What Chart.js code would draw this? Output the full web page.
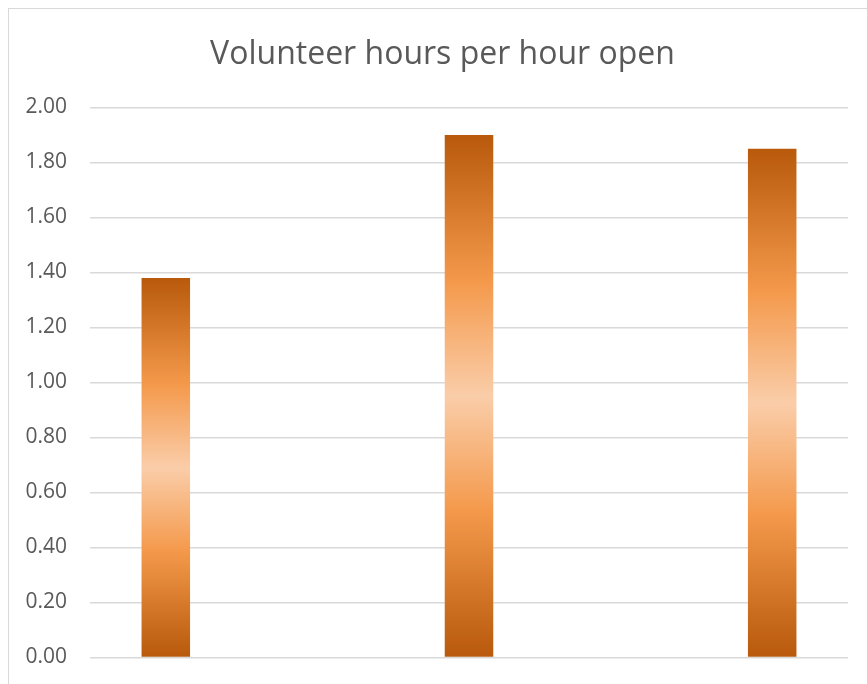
<!DOCTYPE html>
<html>
<head>
<meta charset="utf-8">
<script src="https://cdn.jsdelivr.net/npm/chart.js@4"></script>
<style>
  html, body { margin: 0; padding: 0; background: #fff; overflow: hidden; width: 867px; height: 684px; }
  #box { position: absolute; left: 8px; top: 8px; width: 880px; height: 700px; border: 1px solid #d9d9d9; box-sizing: border-box; }
  #c { position: absolute; left: 0; top: 0; display: block; }
</style>
</head>
<body>
<div id="box"><canvas id="c" width="867" height="684"></canvas></div>
<script>
const titleText = 'Volunteer hours per hour open';
const categories = ['', '', '', '', ''];
const values = [1.38, null, 1.90, null, 1.85];
const yTicks = [0, 0.2, 0.4, 0.6, 0.8, 1.0, 1.2, 1.4, 1.6, 1.8, 2.0];

function barGradient(context) {
  const chart = context.chart;
  const area = chart.chartArea;
  if (!area) return '#F4994B';
  const v = context.raw;
  if (v == null) return '#F4994B';
  const y = chart.scales.y;
  const top = y.getPixelForValue(v);
  const bottom = y.getPixelForValue(0);
  const g = chart.ctx.createLinearGradient(0, top, 0, bottom);
  g.addColorStop(0, '#B8590B');
  g.addColorStop(0.28, '#F4994B');
  g.addColorStop(0.5, '#FACDA9');
  g.addColorStop(0.72, '#F4994B');
  g.addColorStop(1, '#B8590B');
  return g;
}

new Chart(document.getElementById('c'), {
  type: 'bar',
  data: {
    labels: categories,
    datasets: [{
      data: values,
      backgroundColor: barGradient,
      borderWidth: 0,
      categoryPercentage: 1,
      barPercentage: 0.32
    }]
  },
  options: {
    responsive: false,
    animation: false,
    layout: { autoPadding: false, padding: { left: 0, right: 0, top: 0, bottom: 27 } },
    plugins: {
      legend: { display: false },
      tooltip: { enabled: false },
      title: {
        display: true,
        text: titleText,
        color: '#595959',
        font: { family: 'Open Sans', size: 32, weight: 'normal', lineHeight: 1.2 },
        padding: { top: 27, bottom: 33 }
      }
    },
    scales: {
      x: { display: false },
      y: {
        min: 0,
        max: 2,
        afterBuildTicks: (s) => { s.ticks = yTicks.map(v => ({ value: v })); },
        afterFit: (s) => { s.width = 81; },
        ticks: {
          callback: (v) => Number(v).toFixed(2),
          color: '#595959',
          font: { family: 'Open Sans', size: 21 },
          padding: 23
        },
        grid: { color: '#D9D9D9', lineWidth: 1.5, drawTicks: false },
        border: { display: false }
      },
      yRight: {
        type: 'linear',
        position: 'right',
        display: true,
        min: 0,
        max: 2,
        afterFit: (s) => { s.width = 28; },
        ticks: { display: false },
        grid: { display: false, drawTicks: false },
        border: { display: false }
      }
    }
  }
});
</script>
</body>
</html>
